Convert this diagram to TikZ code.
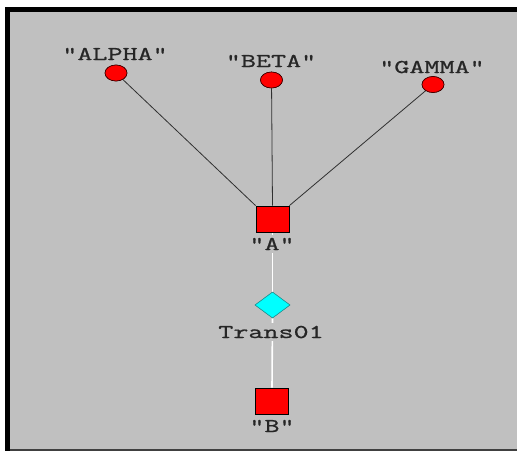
\documentclass[tikz,border=0pt]{standalone}
\usepackage{fontspec}
\newfontfamily\cour[FakeStretch=1.5,FakeBold=1.0]{Latin Modern Mono}
\usetikzlibrary{shapes.geometric}
\definecolor{bggray}{HTML}{C0C0C0}
\definecolor{edgegray}{HTML}{303030}
\definecolor{nodered}{HTML}{FF0000}
\definecolor{nodecyan}{HTML}{00FFFF}
\definecolor{cyanedge}{HTML}{2A8A8A}
\definecolor{textgray}{HTML}{262626}
\begin{document}
\begin{tikzpicture}[x=1pt,y=-1pt,
  place/.style={ellipse,draw=black!80!red,fill=nodered,line width=0.6pt,minimum width=22pt,minimum height=16pt,inner sep=0pt},
  sqbox/.style={rectangle,draw=black,fill=nodered,line width=0.8pt,minimum width=33pt,minimum height=26pt,inner sep=0pt},
  trans/.style={diamond,draw=cyanedge,fill=nodecyan,line width=0.5pt,minimum width=35pt,minimum height=26pt,inner sep=0pt,aspect=1.35},
  lbl/.style={anchor=base,inner xsep=1pt,inner ysep=3pt,fill=bggray,font=\cour\fontsize{19.5}{19.5}\selectfont,text=textgray},
  link/.style={draw=edgegray,line width=0.8pt},
  wlink/.style={draw=white,line width=1.6pt}]
\useasboundingbox (0,0) rectangle (517,451);
\fill[white] (0,0) rectangle (517,451);
\fill[black] (5,7) rectangle (517,451);
\fill[bggray] (10,12) rectangle (517,449);
\fill[black!75] (10,449) rectangle (517,451);
% nodes
\node[place] (alpha) at (116,73) {};
\node[place] (beta) at (271.5,80) {};
\node[place] (gamma) at (433,84.5) {};
\node[sqbox] (A) at (272.5,219) {};
\node[trans] (t1) at (272.5,305) {};
\node[sqbox] (B) at (272,401) {};
% connectors
\path[link] (alpha) -- (A.north west);
\path[link] (beta) -- (A.north);
\path[link] (gamma) -- (A.north east);
\path[wlink] (A.south) -- (t1.north);
\path[wlink] (t1.south) -- (B.north);
% labels
\node[lbl] (lalpha) at (115,60) {"ALPHA"};
\node[lbl] (lbeta) at (271,67) {"BETA"};
\node[lbl] (lgamma) at (432,73) {"GAMMA"};
\node[lbl] (lA) at (272,250) {"A"};
\node[lbl] (lt1) at (271,338) {Trans01};
\node[lbl] (lB) at (272,432) {"B"};
% redraw nodes on top
\node[place] at (alpha) {};
\node[place] at (beta) {};
\node[place] at (gamma) {};
\node[sqbox] at (A) {};
\node[trans] at (t1) {};
\node[sqbox] at (B) {};
\end{tikzpicture}
\end{document}
